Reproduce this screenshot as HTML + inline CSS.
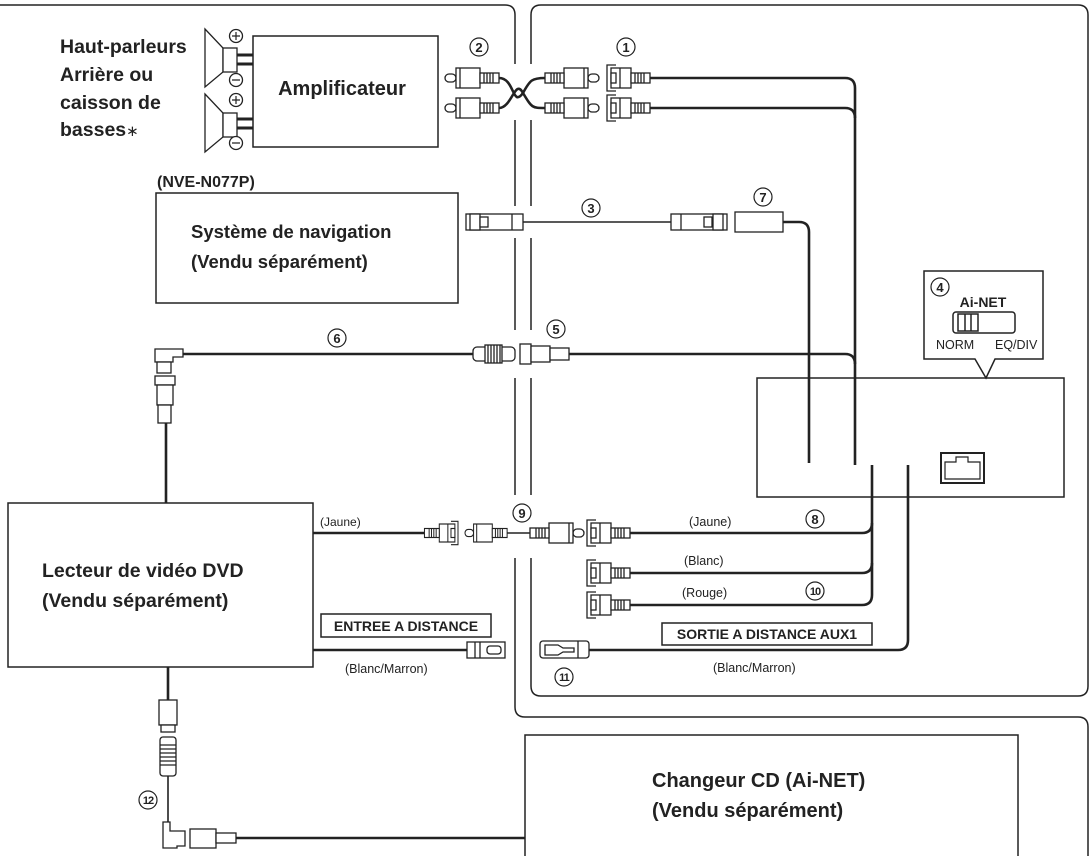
<!DOCTYPE html>
<html><head><meta charset="utf-8"><style>
html,body{margin:0;padding:0;background:#fff;}
svg{display:block;}
text{font-family:"Liberation Sans",sans-serif;fill:#222;}
.b{font-weight:bold;}
</style></head><body>
<svg width="1092" height="856" viewBox="0 0 1092 856" xmlns="http://www.w3.org/2000/svg">
<defs>
<g id="mp" fill="#fff" stroke="#222" stroke-width="1.3">
<rect x="0" y="-4" width="11" height="8" rx="4"/>
<rect x="11" y="-10" width="24" height="20"/>
<line x1="15" y1="-10" x2="15" y2="10"/>
<rect x="35" y="-5" width="19" height="10"/>
<line x1="39" y1="-5" x2="39" y2="5"/><line x1="42" y1="-5" x2="42" y2="5"/><line x1="45" y1="-5" x2="45" y2="5"/><line x1="48" y1="-5" x2="48" y2="5"/>
</g>
<g id="jk" fill="#fff" stroke="#222" stroke-width="1.3">
<path d="M9,-13 H0 V13 H9"/>
<rect x="4" y="-10" width="20" height="20"/>
<rect x="4" y="-5" width="5" height="10"/>
<line x1="13" y1="-10" x2="13" y2="10"/>
<rect x="24" y="-5" width="19" height="10"/>
<line x1="28" y1="-5" x2="28" y2="5"/><line x1="31" y1="-5" x2="31" y2="5"/><line x1="34" y1="-5" x2="34" y2="5"/><line x1="37" y1="-5" x2="37" y2="5"/>
</g>
</defs>

<g fill="none" stroke="#222" stroke-width="1.5">
<!-- frames -->
<path d="M0,5 H505 Q515,5 515,15 V64"/>
<path d="M515,120 V206 M515,238 V330 M515,378 V495 M515,558 V707 Q515,717 525,717 H1078 Q1088,717 1088,727 V856"/>
<path d="M531,64 V15 Q531,5 541,5 H1078 Q1088,5 1088,15 V686 Q1088,696 1078,696 H541 Q531,696 531,686 V558"/>
<path d="M531,120 V206 M531,238 V330 M531,378 V495"/>
<!-- boxes -->
<rect x="253" y="36" width="185" height="111"/>
<rect x="156" y="193" width="302" height="110"/>
<rect x="757" y="378" width="307" height="119"/>
<rect x="8" y="503" width="305" height="164"/>
<rect x="525" y="735" width="493" height="125"/>
<rect x="941" y="453" width="43" height="30" stroke-width="2"/>
<path d="M945,479 V462 H956 V457 H968 V462 H980 V479 Z" stroke-width="1.2"/>
<!-- ai-net callout -->
<path d="M975,359 H924 V271 H1043 V359 H995 L986,378 Z"/>
<rect x="953" y="312" width="62" height="21" rx="3"/>
<rect x="958" y="314" width="20" height="17"/>
<line x1="965" y1="314" x2="965" y2="331"/><line x1="971" y1="314" x2="971" y2="331"/>
<!-- text boxes -->
<rect x="321" y="614" width="170" height="23"/>
<rect x="662" y="623" width="210" height="22"/>
</g>

<!-- speakers -->
<g fill="#fff" stroke="#222" stroke-width="1.3">
<path d="M205,29 L223,48 V72 L205,87 Z"/><rect x="223" y="48" width="14" height="24"/>
<path d="M205,94 L223,113 V137 L205,152 Z"/><rect x="223" y="113" width="14" height="24"/>
<circle cx="236" cy="36" r="6.5"/><circle cx="236" cy="80" r="6.5"/>
<circle cx="236" cy="100" r="6.5"/><circle cx="236" cy="143" r="6.5"/>
</g>
<g stroke="#222" stroke-width="1.2">
<path d="M232,36 H240 M236,32 V40 M232,80 H240 M232,100 H240 M236,96 V104 M232,143 H240"/>
</g>
<g stroke="#222" stroke-width="3">
<path d="M237,55 H253 M237,64 H253 M237,119 H253 M237,128 H253"/>
</g>

<!-- cables -->
<g fill="none" stroke="#222" stroke-width="2.6">
<path d="M499,78 C515,78 512,108 523,93 C530,80 532,78 545,78"/>
<path d="M499,108 C512,108 515,78 523,93 C532,108 532,108 545,108"/>
<path d="M650,78 H845 Q855,78 855,88 V465"/>
<path d="M650,108 H845 Q855,108 855,118"/>
<path d="M569,354 H845 Q855,354 855,364"/>
<path d="M783,222 H799 Q809,222 809,232 V463"/>
<path d="M872,465 V595 Q872,605 862,605 H623"/>
<path d="M623,573 H862 Q872,573 872,563"/>
<path d="M623,533 H862 Q872,533 872,523"/>
<path d="M908,465 V640 Q908,650 898,650 H589"/>
<path d="M183,354 H473"/>
<path d="M166,423 V503"/>
<path d="M313,533 H425"/>
<path d="M313,650 H467"/>
<path d="M168,667 V700"/>
<path d="M236,838 H525"/>
</g>
<g fill="none" stroke="#222" stroke-width="1.6">
<path d="M523,222 H671"/>
<path d="M507,533 H540"/>
<path d="M168,776 V822"/>
</g>

<!-- RCA plugs -->
<use href="#mp" transform="translate(445,78)"/>
<use href="#mp" transform="translate(445,108)"/>
<use href="#mp" transform="translate(599,78) scale(-1,1)"/>
<use href="#mp" transform="translate(599,108) scale(-1,1)"/>
<use href="#jk" transform="translate(607,78)"/>
<use href="#jk" transform="translate(607,108)"/>
<use href="#jk" transform="translate(587,533)"/>
<use href="#jk" transform="translate(587,573)"/>
<use href="#jk" transform="translate(587,605)"/>
<use href="#mp" transform="translate(584,533) scale(-1,1)"/>
<use href="#mp" transform="translate(465,533) scale(0.78,0.9)"/>
<use href="#jk" transform="translate(458,533) scale(-0.78,0.9)"/>

<g fill="#fff" stroke="#222" stroke-width="1.3">
<!-- nav connectors -->
<rect x="466" y="214" width="57" height="16"/><rect x="470" y="214" width="10" height="16"/><rect x="480" y="217" width="8" height="10"/><line x1="512" y1="214" x2="512" y2="230"/>
<rect x="671" y="214" width="56" height="16"/><rect x="713" y="214" width="10" height="16"/><rect x="704" y="217" width="8" height="10"/><line x1="681" y1="214" x2="681" y2="230"/>
<rect x="735" y="212" width="48" height="20"/>
<!-- 5/6 connectors -->
<rect x="473" y="347" width="42" height="14" rx="4"/><rect x="485" y="345" width="17" height="18"/>
<path d="M488,345 V363 M491,345 V363 M494,345 V363 M497,345 V363 M500,345 V363"/>
<rect x="520" y="344" width="11" height="20"/><rect x="531" y="346" width="19" height="16"/><rect x="550" y="348" width="19" height="12"/>
<!-- right-angle top -->
<path d="M155,349 H183 V357 H173 V362 H155 Z"/>
<rect x="157" y="362" width="14" height="11"/>
<rect x="155" y="376" width="20" height="9"/>
<rect x="157" y="385" width="16" height="20"/>
<rect x="158" y="405" width="13" height="18"/>
<!-- entree connector -->
<rect x="467" y="642" width="38" height="16"/><line x1="475" y1="642" x2="475" y2="658"/><line x1="480" y1="642" x2="480" y2="658"/><rect x="487" y="646" width="14" height="8" rx="3"/>
<!-- 11 connector -->
<rect x="540" y="641" width="49" height="17" rx="3"/><path d="M545,645 H558 L563,648 H574 V652 H563 L558,655 H545 Z"/><line x1="578" y1="641" x2="578" y2="658"/>
<!-- bottom DVD cable -->
<rect x="159" y="700" width="18" height="25"/>
<rect x="161" y="725" width="14" height="7"/>
<rect x="160" y="737" width="16" height="39" rx="3"/>
<path d="M160,745 H176 M160,749 H176 M160,753 H176 M160,757 H176 M160,761 H176 M160,765 H176"/>
<path d="M163,822 H170 V831 H185 V846 H177 V848 H163 Z"/>
<rect x="190" y="829" width="26" height="19"/>
<rect x="216" y="833" width="20" height="10"/>
</g>

<!-- circled numbers -->
<g fill="#fff" stroke="#222" stroke-width="1.2">
<circle cx="479" cy="47" r="9"/><circle cx="626" cy="47" r="9"/><circle cx="591" cy="208" r="9"/><circle cx="763" cy="197" r="9"/>
<circle cx="940" cy="287" r="9"/><circle cx="556" cy="329" r="9"/><circle cx="337" cy="338" r="9"/><circle cx="522" cy="513" r="9"/>
<circle cx="815" cy="519" r="9"/><circle cx="815" cy="591" r="9"/><circle cx="564" cy="677" r="9"/><circle cx="148" cy="800" r="9"/>
</g>
<g class="b" font-size="13" text-anchor="middle" font-weight="bold">
<text x="479" y="52">2</text><text x="626" y="52">1</text><text x="591" y="213">3</text><text x="763" y="202">7</text>
<text x="940" y="292">4</text><text x="556" y="334">5</text><text x="337" y="343">6</text><text x="522" y="518">9</text>
<text x="815" y="524">8</text><text x="815" y="595" font-size="11" letter-spacing="-1">10</text><text x="564" y="681" font-size="11" letter-spacing="-1">11</text><text x="148" y="804" font-size="11" letter-spacing="-1">12</text>
</g>

<!-- labels -->
<g class="b" font-weight="bold">
<text x="60" y="53" font-size="19.5">Haut-parleurs</text>
<text x="60" y="81" font-size="19.5">Arrière ou</text>
<text x="60" y="109" font-size="19.5">caisson de</text>
<text x="60" y="136" font-size="19.5">basses<tspan font-weight="normal" font-size="15">∗</tspan></text>
<text x="342" y="95" font-size="20" text-anchor="middle">Amplificateur</text>
<text x="157" y="187" font-size="16">(NVE-N077P)</text>
<text x="191" y="238" font-size="18.5">Système de navigation</text>
<text x="191" y="268" font-size="18.5">(Vendu séparément)</text>
<text x="42" y="577" font-size="19.5">Lecteur de vidéo DVD</text>
<text x="42" y="607" font-size="19.5">(Vendu séparément)</text>
<text x="652" y="787" font-size="20">Changeur CD (Ai-NET)</text>
<text x="652" y="817" font-size="20">(Vendu séparément)</text>
<text x="406" y="631" font-size="14" text-anchor="middle">ENTREE A DISTANCE</text>
<text x="767" y="639" font-size="14" text-anchor="middle">SORTIE A DISTANCE AUX1</text>
<text x="983" y="307" font-size="14" text-anchor="middle">Ai-NET</text>
</g>
<g font-size="12.5">
<text x="936" y="349">NORM</text>
<text x="995" y="349">EQ/DIV</text>
<text x="320" y="526" font-size="12">(Jaune)</text>
<text x="689" y="526">(Jaune)</text>
<text x="684" y="565">(Blanc)</text>
<text x="682" y="597">(Rouge)</text>
<text x="345" y="673">(Blanc/Marron)</text>
<text x="713" y="672">(Blanc/Marron)</text>
</g>
</svg>
</body></html>
